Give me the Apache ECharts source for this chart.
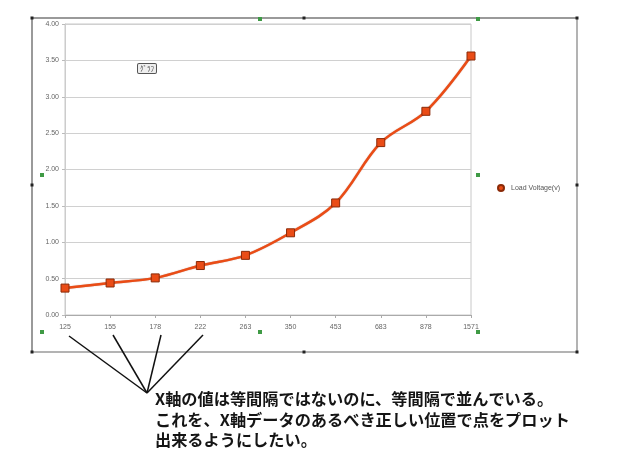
<!DOCTYPE html>
<html><head><meta charset="utf-8">
<script src="https://cdn.jsdelivr.net/npm/echarts@6/dist/echarts.min.js"></script>
<style>html,body{margin:0;padding:0;background:#fff}#c{width:630px;height:470px}</style>
</head><body><div id="c"></div>
<script>
const categories = ['125','155','178','222','263','350','453','683','878','1571'];
const loadVoltage = [0.37, 0.44, 0.51, 0.68, 0.82, 1.13, 1.54, 2.37, 2.80, 3.56];
const seriesName = 'Load Voltage(v)';
const yTicks = {min: 0, max: 4, interval: 0.5};
const noteLines = ['X軸の値は等間隔ではないのに、等間隔で並んでいる。',
  'これを、X軸データのあるべき正しい位置で点をプロット',
  '出来るようにしたい。'];

const chart = echarts.init(document.getElementById('c'), null, {renderer:'canvas'});
const green = '#3f9a45';
function handle(x,y){return {type:'rect',shape:{x:x-2,y:y-2,width:4,height:4},style:{fill:green},z:10};}
function dot(x,y){return {type:'rect',shape:{x:x-1.5,y:y-1.5,width:3,height:3},style:{fill:'#222'},z:10};}
function ln(x1,y1,x2,y2,c,w){return {type:'line',shape:{x1,y1,x2,y2},style:{stroke:c,lineWidth:w},z:5};}

const graphic = [
  ln(32,18,577,18,'#9a9a9a',2),
  ln(32,18,32,352,'#9a9a9a',2),
  ln(577,18,577,352,'#9a9a9a',1.5),
  ln(32,352,577,352,'#9a9a9a',1.5),
  dot(32,18),dot(304,18),dot(577,18),dot(577,185),dot(577,352),dot(304,352),dot(32,352),dot(32,185),
  handle(260,19),handle(478,19),handle(42,175),handle(478,175),handle(42,332),handle(260,332),handle(478,332),
  ln(69,336,147,393,'#111',1.5),
  ln(113,335,147,393,'#111',1.5),
  ln(161,335,147,393,'#111',1.5),
  ln(203,335,147,393,'#111',1.5),
  {type:'text',left:137,top:63,z:10,style:{text:'ｸﾞﾗﾌ',fontSize:7,fill:'#444',backgroundColor:'#eee',borderColor:'#555',borderWidth:1,borderRadius:1,padding:[1,2],fontFamily:'Noto Sans CJK JP'}}
];
noteLines.forEach((t,i)=>{
  graphic.push({type:'text',left:155,top:391+i*20.5,z:10,style:{text:t,fontSize:16.2,fontWeight:'bold',fill:'#151515',fontFamily:'Noto Sans CJK JP'}});
});

chart.setOption({
  animation:false,
  backgroundColor:'#fff',
  grid:{left:65,right:159,top:24,bottom:155,show:true,borderColor:'#c8c8c8',borderWidth:1},
  legend:{
    left:492,top:179,orient:'vertical',itemWidth:10,itemHeight:6,itemGap:4,
    textStyle:{fontSize:7,color:'#555',fontFamily:'Liberation Sans'},
    data:[{name:seriesName,icon:'circle'}]
  },
  xAxis:{
    type:'category',data:categories,boundaryGap:false,
    axisLine:{lineStyle:{color:'#aaa'}},
    axisTick:{show:true,alignWithLabel:true,length:3,lineStyle:{color:'#aaa'}},
    axisLabel:{fontSize:7,color:'#666',margin:9,fontFamily:'Liberation Sans'},
    splitLine:{show:false}
  },
  yAxis:{
    type:'value',min:yTicks.min,max:yTicks.max,interval:yTicks.interval,
    axisLine:{show:true,lineStyle:{color:'#ccc'}},
    axisTick:{show:true,length:3,lineStyle:{color:'#bbb'}},
    axisLabel:{fontSize:7,color:'#666',margin:6,formatter:v=>v.toFixed(2),fontFamily:'Liberation Sans'},
    splitLine:{lineStyle:{color:'#d0d0d0',width:1}}
  },
  series:[{
    name:seriesName,type:'line',data:loadVoltage,smooth:0.35,
    symbol:'rect',symbolSize:8,
    lineStyle:{color:'#ea4c16',width:2.5,shadowColor:'rgba(150,40,0,0.5)',shadowBlur:1},
    itemStyle:{color:'#ea4c16',borderColor:'#8a2a08',borderWidth:1}
  }],
  graphic:graphic
});
</script></body></html>
